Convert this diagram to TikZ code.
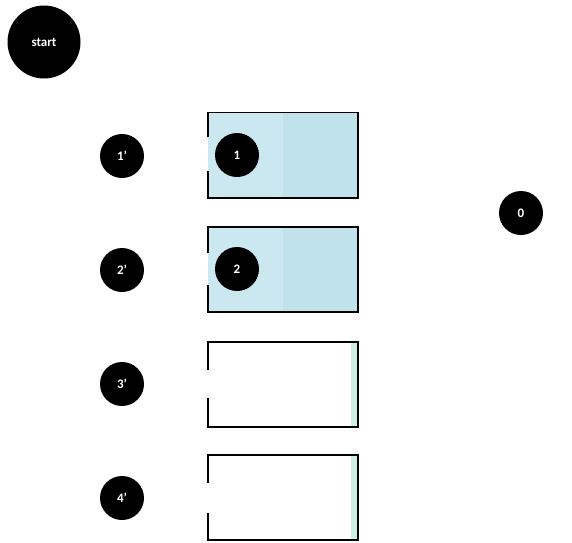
\documentclass[tikz,border=0pt]{standalone}
\usepackage{fontspec}
\setmainfont{Carlito}
\definecolor{boxblue}{RGB}{192,226,234}
\definecolor{boxblueL}{RGB}{203,232,241}
\definecolor{strip}{RGB}{205,236,226}
\begin{document}
\begin{tikzpicture}[x=1pt,y=-1pt,
  dot/.style={circle, fill=black, text=white, inner sep=0pt, minimum size=44pt,
    font=\bfseries\fontsize{13}{14}\selectfont},
  bigdot/.style={dot, minimum size=73pt},
  boxnode/.style={rectangle, inner sep=0pt, minimum width=150pt, minimum height=85pt},
  boxline/.style={line width=1.6pt, line join=miter}]
\useasboundingbox (0,0) rectangle (572,542);

% boxes
\node[boxnode, fill=boxblue] (b1) at (283,155) {};
\fill[boxblueL] (b1.north west) rectangle ([xshift=-75pt]b1.south east);
\node[boxnode, fill=boxblue] (b2) at (283,269.5) {};
\fill[boxblueL] (b2.north west) rectangle ([xshift=-75pt]b2.south east);
\node[boxnode, fill=white] (b3) at (283,384.5) {};
\fill[strip] ([xshift=-7pt]b3.north east) rectangle (b3.south east);
\node[boxnode, fill=white] (b4) at (283,497.5) {};
\fill[strip] ([xshift=-7pt]b4.north east) rectangle (b4.south east);

\draw[boxline] ([yshift=-25pt]b1.north west) -- (b1.north west) -- (b1.north east)
  -- (b1.south east) -- (b1.south west) -- ([yshift=27pt]b1.south west);
\draw[boxline] ([yshift=-26pt]b2.north west) -- (b2.north west) -- (b2.north east)
  -- (b2.south east) -- (b2.south west) -- ([yshift=27pt]b2.south west);
\draw[boxline] ([yshift=-28pt]b3.north west) -- (b3.north west) -- (b3.north east)
  -- (b3.south east) -- (b3.south west) -- ([yshift=29pt]b3.south west);
\draw[boxline] ([yshift=-28pt]b4.north west) -- (b4.north west) -- (b4.north east)
  -- (b4.south east) -- (b4.south west) -- ([yshift=27pt]b4.south west);

% circles
\node[bigdot] (start) at (44,42) {start};
\node[dot] (p1) at (122,156) {1'};
\node[dot] (p2) at (122,270) {2'};
\node[dot] (p3) at (122,384) {3'};
\node[dot] (p4) at (122,498) {4'};
\node[dot] (n1) at (237,155) {1};
\node[dot] (n2) at (237,269) {2};
\node[dot] (n0) at (521,213) {0};
\end{tikzpicture}
\end{document}
